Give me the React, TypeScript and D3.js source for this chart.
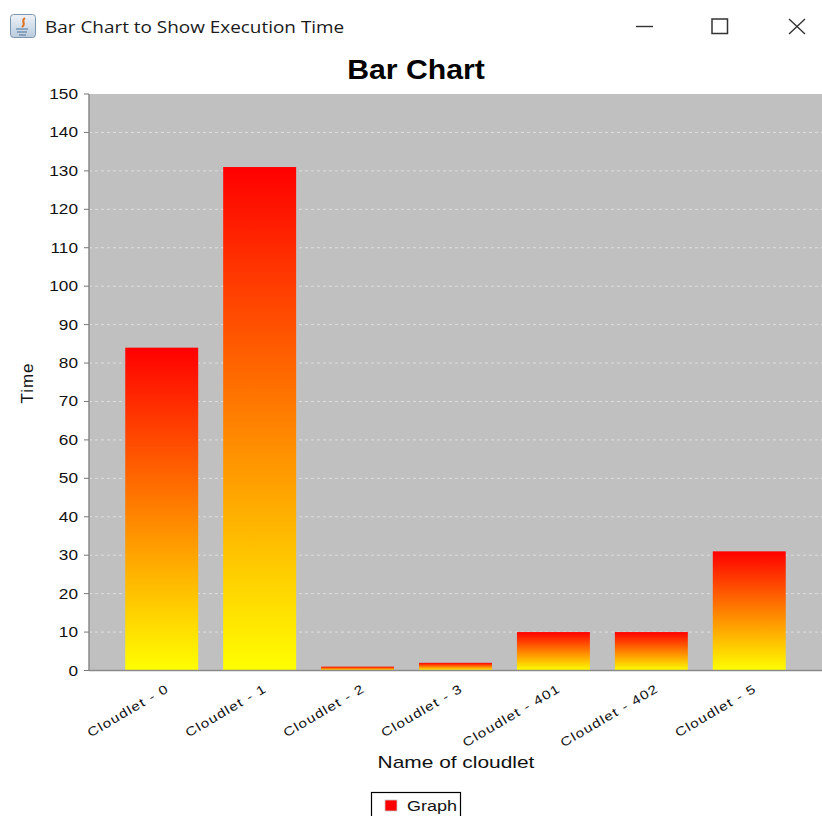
import React from "react";
import * as d3 from "d3";

const windowTitle = "Bar Chart to Show Execution Time";
const chartTitle = "Bar Chart";
const xAxisTitle = "Name of cloudlet";
const yAxisTitle = "Time";
const legendLabel = "Graph";
const cloudlets = [
  "Cloudlet - 0",
  "Cloudlet - 1",
  "Cloudlet - 2",
  "Cloudlet - 3",
  "Cloudlet - 401",
  "Cloudlet - 402",
  "Cloudlet - 5",
];
const executionTimes = [84, 131, 1, 2, 10, 10, 31];
const timeTicks = [0, 10, 20, 30, 40, 50, 60, 70, 80, 90, 100, 110, 120, 130, 140, 150];

const WIDTH = 822;
const HEIGHT = 816;
const plot = { left: 89, right: 822, top: 94, bottom: 670.5 };
const labelFont = "'Liberation Sans', Arial, sans-serif";
// The frame is drawn wider than tall, so its text carries a horizontal stretch.
const stretch = 1.23;

export default function App() {
  const x = d3
    .scaleBand<string>()
    .domain(cloudlets)
    .range([113, 798])
    .paddingInner(0.255)
    .paddingOuter(0.125);
  const y = d3.scaleLinear().domain([0, 150]).range([plot.bottom, plot.top]);

  return (
    <svg
      width={WIDTH}
      height={HEIGHT}
      viewBox={`0 0 ${WIDTH} ${HEIGHT}`}
      style={{ position: "absolute", left: 0, top: 0, background: "#fff" }}
    >
      <defs>
        <linearGradient id="barFill" x1="0" y1="0" x2="0" y2="1">
          <stop offset="0" stopColor="#ff0000" />
          <stop offset="1" stopColor="#ffff00" />
        </linearGradient>
        <linearGradient id="iconFill" x1="0" y1="0" x2="0" y2="1">
          <stop offset="0" stopColor="#eef3f8" />
          <stop offset="1" stopColor="#b9cbdd" />
        </linearGradient>
      </defs>

      {/* Window title bar */}
      <g>
        <rect x={10.5} y={14.5} width={25} height={23} rx={3} fill="url(#iconFill)" stroke="#7d95ad" />
        <path d="M25 18 C20 21 27 23 22 27" fill="none" stroke="#e0701c" strokeWidth={2} />
        <path d="M16 29 H28 M17 32 H27 M19 35 H26" stroke="#4f7399" strokeWidth={1.2} />
        <text
          transform="translate(45 33) scale(1.1 1)"
          fontFamily="'Open Sans', sans-serif"
          fontSize={17.2}
          fill="#1a1a1a"
        >
          {windowTitle}
        </text>
        <path d="M636 26.5 H653" stroke="#333" strokeWidth={1.4} />
        <rect x={712} y={19} width={15.5} height={14.5} fill="none" stroke="#333" strokeWidth={1.5} />
        <path d="M789 19 L805 34 M805 19 L789 34" stroke="#333" strokeWidth={1.4} />
      </g>

      <text
        transform="translate(416 79) scale(1.12 1)"
        textAnchor="middle"
        fontFamily={labelFont}
        fontWeight="bold"
        fontSize={27}
        fill="#000"
      >
        {chartTitle}
      </text>

      {/* Plot background and gridlines */}
      <rect
        x={plot.left}
        y={plot.top}
        width={plot.right - plot.left}
        height={plot.bottom - plot.top}
        fill="#c0c0c0"
      />
      {timeTicks.slice(1, -1).map((t) => (
        <line
          key={t}
          x1={plot.left}
          x2={plot.right}
          y1={y(t)}
          y2={y(t)}
          stroke="#dedede"
          strokeWidth={1}
          strokeDasharray="3 3"
        />
      ))}

      {/* Bars */}
      {cloudlets.map((name, i) => (
        <rect
          key={name}
          x={x(name)}
          y={y(executionTimes[i])}
          width={x.bandwidth()}
          height={y(0) - y(executionTimes[i])}
          fill="url(#barFill)"
        />
      ))}

      {/* Value axis */}
      <line x1={plot.left} x2={plot.left} y1={plot.top} y2={plot.bottom} stroke="#8a8a8a" strokeWidth={1.5} />
      {timeTicks.map((t) => (
        <g key={t}>
          <line x1={84} x2={plot.left} y1={y(t)} y2={y(t)} stroke="#777" />
          <text
            transform={`translate(78 ${y(t) + 5}) scale(${stretch} 1)`}
            textAnchor="end"
            fontFamily={labelFont}
            fontSize={14}
            fill="#111"
          >
            {t}
          </text>
        </g>
      ))}
      <text
        transform="translate(33 383) rotate(-90)"
        textAnchor="middle"
        fontFamily={labelFont}
        fontSize={17}
        letterSpacing={1}
        fill="#111"
      >
        {yAxisTitle}
      </text>

      {/* Category axis */}
      <line x1={plot.left} x2={plot.right} y1={plot.bottom} y2={plot.bottom} stroke="#8a8a8a" strokeWidth={1.5} />
      {cloudlets.map((name) => {
        const cx = (x(name) as number) + x.bandwidth() / 2;
        return (
          <text
            key={name}
            transform={`translate(${cx + 8} 691) rotate(-30.5) scale(${stretch} 1)`}
            textAnchor="end"
            fontFamily={labelFont}
            fontSize={12.5}
            letterSpacing={0.9}
            fill="#111"
          >
            {name}
          </text>
        );
      })}
      <text
        transform={`translate(456 768) scale(${stretch} 1)`}
        textAnchor="middle"
        fontFamily={labelFont}
        fontSize={17}
        fill="#111"
      >
        {xAxisTitle}
      </text>

      {/* Legend, clipped by the bottom edge of the frame */}
      <rect x={371.5} y={792.5} width={89} height={30} fill="#fff" stroke="#000" strokeWidth={1.2} />
      <rect x={385} y={800} width={12} height={11} fill="#ff0000" stroke="#c8c8c8" strokeWidth={0.8} />
      <text
        transform="translate(407 811) scale(1.16 1)"
        fontFamily={labelFont}
        fontSize={15.5}
        fill="#111"
      >
        {legendLabel}
      </text>
    </svg>
  );
}
